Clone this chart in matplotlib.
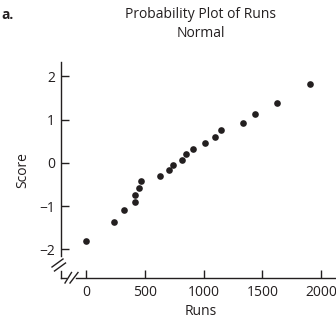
import matplotlib
matplotlib.use('Agg')
import matplotlib.pyplot as plt
from matplotlib.lines import Line2D

plt.rcParams['font.family'] = ['Open Sans', 'DejaVu Sans']

# data
runs = [0, 240, 320, 417, 420, 449, 466, 631, 708, 742,
        819, 847, 911, 1014, 1094, 1148, 1334, 1434, 1623, 1905]
score = [-1.80, -1.37, -1.09, -0.90, -0.74, -0.58, -0.42, -0.30, -0.17, -0.05,
         0.07, 0.20, 0.32, 0.46, 0.59, 0.75, 0.91, 1.12, 1.38, 1.82]
xticks = [0, 500, 1000, 1500, 2000]
yticks = [-2, -1, 0, 1, 2]

ink = '#231f20'
W, H = 336, 325

fig = plt.figure(figsize=(W / 100, H / 100), dpi=100)


def fx(px):
    return px / W


def fy(py):
    return 1 - py / H


ax = fig.add_axes([fx(61), fy(278), fx(340) - fx(61), fy(62) - fy(278)])
ax.plot(runs, score, 'o', color=ink, markersize=4.8, markeredgewidth=0)

ax.set_xlim(-213, 2160)
ax.set_ylim(-2.66, 2.33)
ax.set_xticks(xticks)
ax.set_yticks(yticks)
ax.set_yticklabels(['\u2212' + str(-t) if t < 0 else str(t) for t in yticks])
ax.tick_params(direction='in', length=5.8, width=1.0, color=ink,
               labelcolor=ink, labelsize=10)
ax.tick_params(axis='x', pad=5)
ax.tick_params(axis='y', pad=4.5)
for s in ax.spines.values():
    s.set_visible(False)

ax.set_xlabel('Runs', fontsize=10, color=ink, labelpad=3)
ax.set_ylabel('Score', fontsize=10, color=ink, labelpad=6)

# axis lines with break marks
segs = [
    [(61, 62), (61, 256)],
    [(61, 271), (61, 278)],
    [(52, 267), (63, 259)],
    [(54.5, 271), (65.5, 263)],
    [(61, 278), (66, 278)],
    [(76, 278), (340, 278)],
    [(65, 283), (71.5, 272.5)],
    [(70, 283), (78, 272.5)],
]
for (x0, y0), (x1, y1) in segs:
    fig.add_artist(Line2D([fx(x0), fx(x1)], [fy(y0), fy(y1)],
                          transform=fig.transFigure, color=ink, lw=1.0))

fig.text(fx(200.5), fy(24), 'Probability Plot of Runs\nNormal', ha='center',
         va='center', fontsize=10, color=ink, linespacing=1.45)
fig.text(fx(1), fy(15), 'a.', ha='left', va='center', fontsize=10,
         fontweight='bold', color=ink)

fig.savefig('out.png', dpi=100)
